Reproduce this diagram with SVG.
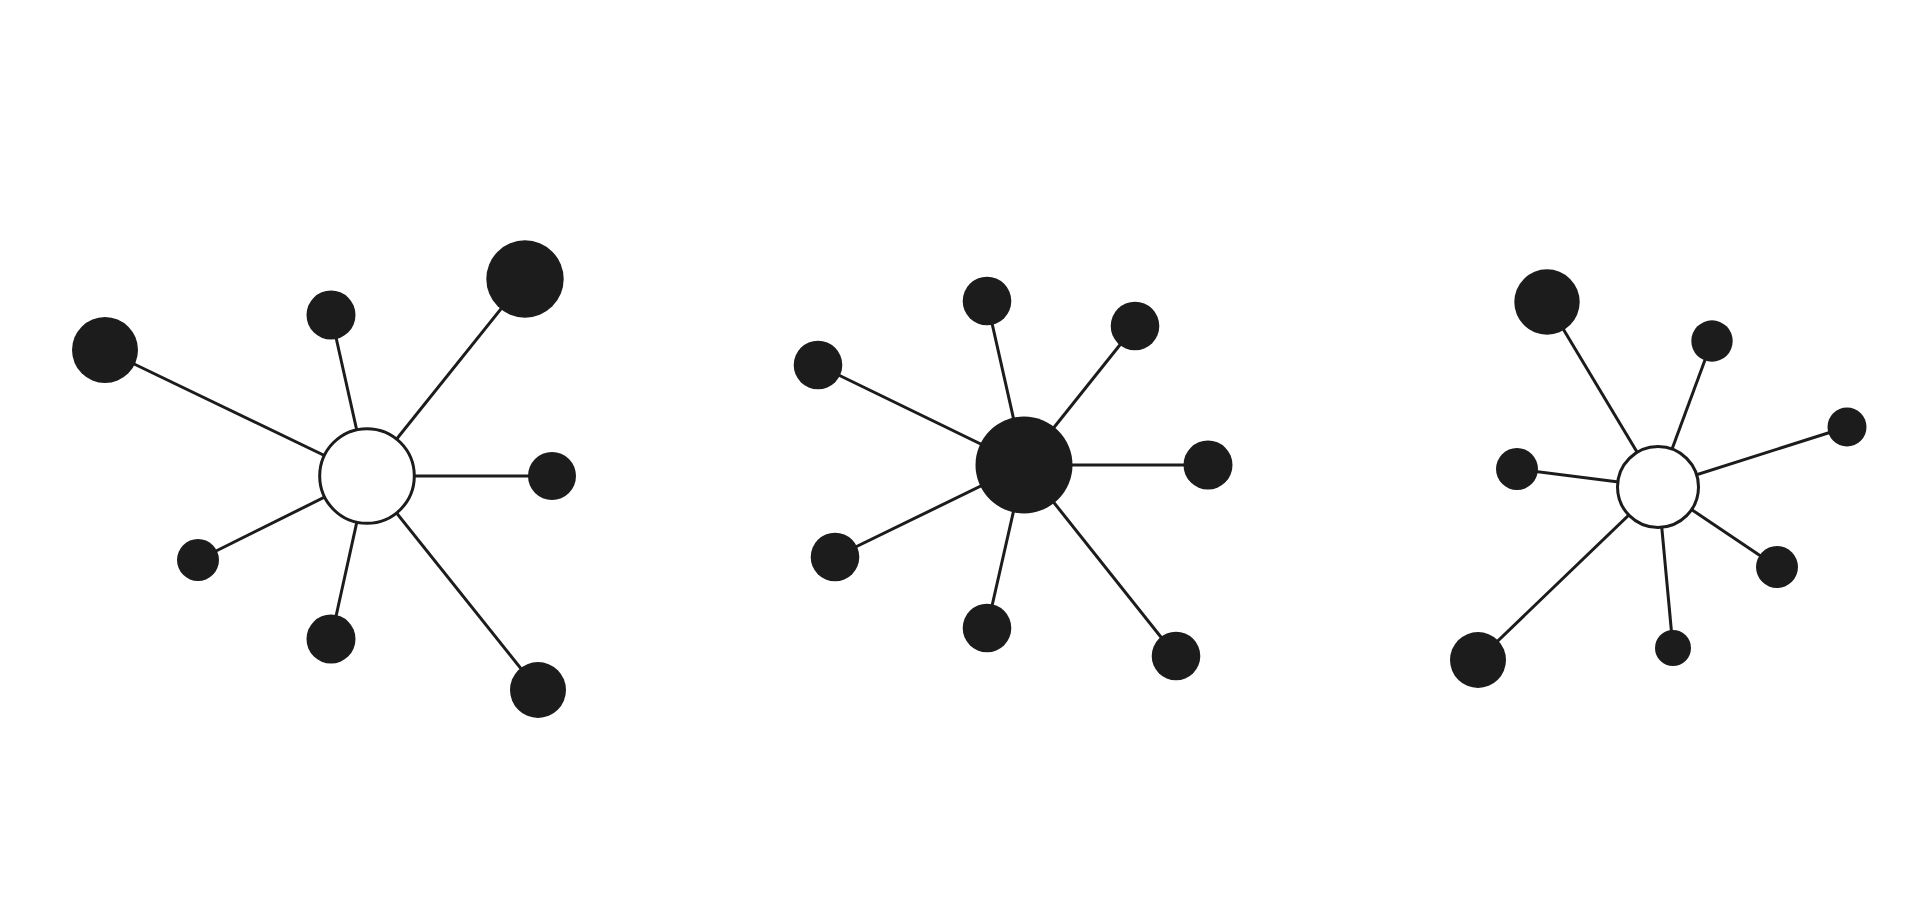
<svg xmlns="http://www.w3.org/2000/svg" width="1920" height="922" viewBox="0 0 1920 922">
<style>
.e{stroke:#1c1c1c;stroke-width:3;fill:none}
.n{fill:#1c1c1c}
.h{fill:#fff;stroke:#1c1c1c;stroke-width:3}
</style>
<rect width="1920" height="922" fill="#fff"/>
<g id="connectors">
<g id="c1">
<line class="e" x1="367" y1="476" x2="105" y2="350"/>
<line class="e" x1="367" y1="476" x2="331" y2="315"/>
<line class="e" x1="367" y1="476" x2="525" y2="279"/>
<line class="e" x1="367" y1="476" x2="552" y2="476"/>
<line class="e" x1="367" y1="476" x2="198" y2="560"/>
<line class="e" x1="367" y1="476" x2="331" y2="639"/>
<line class="e" x1="367" y1="476" x2="538" y2="690"/>
</g>
<g id="c2">
<line class="e" x1="1024" y1="465" x2="987" y2="301"/>
<line class="e" x1="1024" y1="465" x2="1135" y2="326"/>
<line class="e" x1="1024" y1="465" x2="818" y2="365"/>
<line class="e" x1="1024" y1="465" x2="1208" y2="465"/>
<line class="e" x1="1024" y1="465" x2="835" y2="557"/>
<line class="e" x1="1024" y1="465" x2="987" y2="628"/>
<line class="e" x1="1024" y1="465" x2="1176" y2="656"/>
</g>
<g id="c3">
<line class="e" x1="1658" y1="487" x2="1547" y2="302"/>
<line class="e" x1="1658" y1="487" x2="1712" y2="341"/>
<line class="e" x1="1658" y1="487" x2="1847" y2="427"/>
<line class="e" x1="1658" y1="487" x2="1517" y2="469"/>
<line class="e" x1="1658" y1="487" x2="1777" y2="567"/>
<line class="e" x1="1658" y1="487" x2="1673" y2="648"/>
<line class="e" x1="1658" y1="487" x2="1478" y2="660"/>
</g>
</g>
<g id="cluster1">
<circle id="n1-hub" class="h" cx="367" cy="476" r="47.3"/>
<circle id="n1-a" class="n" cx="105" cy="350" r="33"/>
<circle id="n1-b" class="n" cx="331" cy="315" r="24.5"/>
<circle id="n1-c" class="n" cx="525" cy="279" r="38.7"/>
<circle id="n1-d" class="n" cx="552" cy="476" r="24"/>
<circle id="n1-e" class="n" cx="198" cy="560" r="21"/>
<circle id="n1-f" class="n" cx="331" cy="639" r="24.5"/>
<circle id="n1-g" class="n" cx="538" cy="690" r="28"/>
</g>
<g id="cluster2">
<circle id="n2-hub" class="n" cx="1024" cy="465" r="48.5"/>
<circle id="n2-a" class="n" cx="987" cy="301" r="24.3"/>
<circle id="n2-b" class="n" cx="1135" cy="326" r="24.3"/>
<circle id="n2-c" class="n" cx="818" cy="365" r="24.3"/>
<circle id="n2-d" class="n" cx="1208" cy="465" r="24.5"/>
<circle id="n2-e" class="n" cx="835" cy="557" r="24.3"/>
<circle id="n2-f" class="n" cx="987" cy="628" r="24.3"/>
<circle id="n2-g" class="n" cx="1176" cy="656" r="24.3"/>
</g>
<g id="cluster3">
<circle id="n3-hub" class="h" cx="1658" cy="487" r="40.5"/>
<circle id="n3-a" class="n" cx="1547" cy="302" r="32.7"/>
<circle id="n3-b" class="n" cx="1712" cy="341" r="20.7"/>
<circle id="n3-c" class="n" cx="1847" cy="427" r="19.5"/>
<circle id="n3-d" class="n" cx="1517" cy="469" r="21"/>
<circle id="n3-e" class="n" cx="1777" cy="567" r="21"/>
<circle id="n3-f" class="n" cx="1673" cy="648" r="18"/>
<circle id="n3-g" class="n" cx="1478" cy="660" r="28"/>
</g>
</svg>
